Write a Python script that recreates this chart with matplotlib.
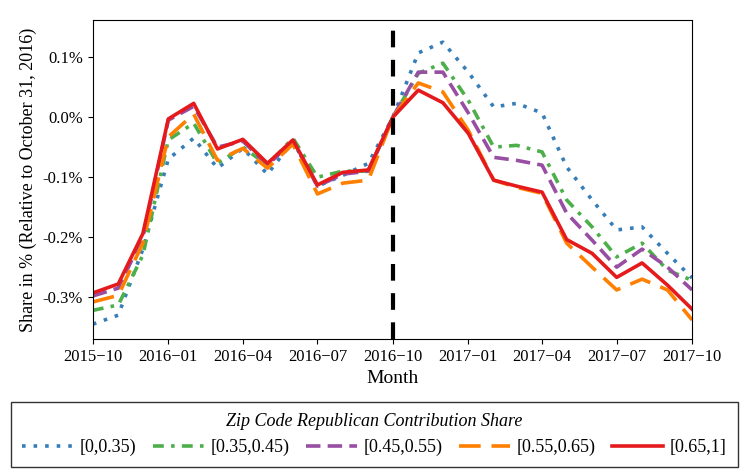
import numpy as np
import pandas as pd
import matplotlib
matplotlib.use("Agg")
from matplotlib import pyplot as plt
import matplotlib.ticker as mticker

plt.rcParams['font.family'] = ['Liberation Serif', 'DejaVu Serif']

months = pd.date_range("2015-10-01", "2017-10-01", freq="MS")

blue = [-0.345, -0.33, -0.22, -0.07, -0.035, -0.085, -0.052, -0.095, -0.04, -0.115, -0.097, -0.077, 0.0,
        0.107, 0.125, 0.075, 0.017, 0.023, 0.007, -0.083, -0.138, -0.188, -0.183, -0.227, -0.268]
green = [-0.322, -0.313, -0.23, -0.038, -0.01, -0.077, -0.05, -0.08, -0.035, -0.1, -0.09, -0.09, 0.0,
         0.073, 0.09, 0.028, -0.05, -0.047, -0.058, -0.138, -0.183, -0.233, -0.21, -0.255, -0.272]
purple = [-0.298, -0.285, -0.2, -0.005, 0.018, -0.05, -0.04, -0.08, -0.04, -0.115, -0.095, -0.09, 0.0,
          0.075, 0.075, 0.007, -0.067, -0.072, -0.08, -0.16, -0.205, -0.25, -0.22, -0.25, -0.288]
orange = [-0.308, -0.297, -0.21, -0.033, 0.005, -0.072, -0.052, -0.085, -0.045, -0.128, -0.11, -0.105, 0.0,
          0.057, 0.042, -0.022, -0.105, -0.117, -0.127, -0.21, -0.25, -0.288, -0.27, -0.288, -0.338]
red = [-0.293, -0.278, -0.194, -0.003, 0.023, -0.053, -0.037, -0.077, -0.038, -0.113, -0.092, -0.088, 0.0,
       0.045, 0.024, -0.027, -0.105, -0.115, -0.125, -0.204, -0.227, -0.267, -0.243, -0.28, -0.32]

labels = ["[0,0.35)", "[0.35,0.45)", "[0.45,0.55)", "[0.55,0.65)", "[0.65,1]"]
colors = ["#377eb8", "#4daf4a", "#984ea3", "#ff7f00", "#e41a1c"]
styles = [(0, (1, 2.2)), (0, (3, 2, 1, 2)), (0, (4, 2)), (0, (6, 3)), "-"]

fig = plt.figure(figsize=(7.49, 4.75), dpi=100)
ax = fig.add_axes([0.124, 0.286, 0.8, 0.672])

for vals, lab, c, ls in zip([blue, green, purple, orange, red], labels, colors, styles):
    ax.plot(months, np.array(vals) / 100, color=c, linestyle=ls, linewidth=2.6, label=lab,
            dash_capstyle="butt")

ax.axvline(pd.Timestamp("2016-10-01"), color="black", linestyle=(0, (4, 3)), linewidth=3)

ax.set_xlim(months[0], months[-1])
ax.set_ylim(-0.0037, 0.00162)
ax.yaxis.set_major_formatter(mticker.FuncFormatter(lambda v, p: f"{v*100:.1f}%"))
ax.set_yticks([-0.003, -0.002, -0.001, 0.0, 0.001])
ticks = pd.date_range("2015-10-01", "2017-10-01", freq="3MS")
ax.set_xticks(ticks)
ax.set_xticklabels([t.strftime("%Y\u2212%m") for t in ticks])
ax.tick_params(labelsize=12)
ax.set_xlabel("Month", fontsize=14)
ax.set_ylabel("Share in % (Relative to October 31, 2016)", fontsize=13)

handles, labs = ax.get_legend_handles_labels()
leg = fig.legend(handles, labs, loc="center", bbox_to_anchor=(0.5, 0.085), ncol=5,
                 fontsize=13, title="Zip Code Republican Contribution Share",
                 fancybox=False, edgecolor="black", handlelength=2.8, columnspacing=0.9,
                 handletextpad=0.4, borderpad=0.6)
leg.get_title().set_fontstyle("italic")
leg.get_title().set_fontsize(13)

fig.savefig("out.png", dpi=100)
